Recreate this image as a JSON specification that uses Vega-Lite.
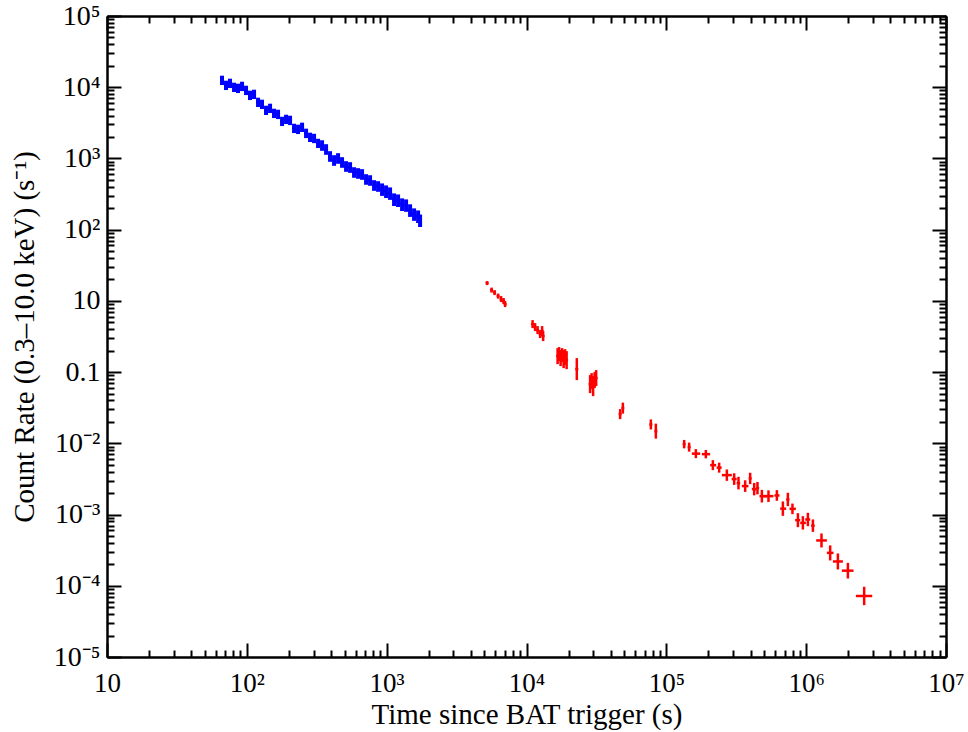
{
  "$schema": "https://vega.github.io/schema/vega-lite/v6.json",
  "autosize": {"type": "none"},
  "padding": {"left": 107, "top": 16, "right": 22, "bottom": 75},
  "width": 839,
  "height": 641,
  "background": "white",
  "config": {"view": {"stroke": null}},
  "datasets": {
    "blue": [
      {"t":66.46,"tlo":64.33,"thi":68.70,"r":1262,"rlo":1073,"rhi":1451},
      {"t":71.0,"tlo":68.70,"thi":73.38,"r":1074,"rlo":913,"rhi":1235},
      {"t":75.8,"tlo":73.38,"thi":78.38,"r":1146,"rlo":974,"rhi":1318},
      {"t":81.0,"tlo":78.38,"thi":83.71,"r":1007,"rlo":856,"rhi":1158},
      {"t":86.5,"tlo":83.71,"thi":89.41,"r":974.5,"rlo":828,"rhi":1121},
      {"t":92.4,"tlo":89.41,"thi":95.50,"r":1039,"rlo":883,"rhi":1195},
      {"t":98.7,"tlo":95.50,"thi":102.0,"r":913.4,"rlo":776,"rhi":1050},
      {"t":105.4,"tlo":102.0,"thi":108.9,"r":777,"rlo":660,"rhi":894},
      {"t":112.6,"tlo":108.9,"thi":116.4,"r":802.6,"rlo":682,"rhi":923},
      {"t":120.3,"tlo":116.4,"thi":124.3,"r":619.6,"rlo":527,"rhi":713},
      {"t":128.4,"tlo":124.3,"thi":132.7,"r":580.8,"rlo":494,"rhi":668},
      {"t":137.2,"tlo":132.7,"thi":141.8,"r":478.3,"rlo":407,"rhi":550},
      {"t":146.6,"tlo":141.8,"thi":151.4,"r":510.5,"rlo":434,"rhi":587},
      {"t":156.5,"tlo":151.4,"thi":161.8,"r":434.1,"rlo":369,"rhi":499},
      {"t":167.2,"tlo":161.8,"thi":172.8,"r":420.4,"rlo":357,"rhi":483},
      {"t":178.6,"tlo":172.8,"thi":184.6,"r":335.2,"rlo":285,"rhi":385},
      {"t":190.8,"tlo":184.6,"thi":197.1,"r":357.6,"rlo":304,"rhi":411},
      {"t":203.7,"tlo":197.1,"thi":210.6,"r":346.2,"rlo":294,"rhi":398},
      {"t":217.6,"tlo":210.6,"thi":224.9,"r":267.3,"rlo":227,"rhi":307},
      {"t":232.4,"tlo":224.9,"thi":240.3,"r":258.8,"rlo":220,"rhi":298},
      {"t":248.3,"tlo":240.3,"thi":256.6,"r":276.1,"rlo":235,"rhi":318},
      {"t":265.2,"tlo":256.6,"thi":274.1,"r":227.4,"rlo":193,"rhi":262},
      {"t":283.2,"tlo":274.1,"thi":292.8,"r":199.7,"rlo":170,"rhi":230},
      {"t":302.5,"tlo":292.8,"thi":312.6,"r":193.4,"rlo":164,"rhi":222},
      {"t":323.1,"tlo":312.6,"thi":334.0,"r":164.5,"rlo":140,"rhi":189},
      {"t":345.1,"tlo":334.0,"thi":356.7,"r":154.2,"rlo":128,"rhi":180},
      {"t":368.6,"tlo":356.7,"thi":381.0,"r":135.5,"rlo":112.5,"rhi":158.5},
      {"t":393.6,"tlo":381.0,"thi":406.9,"r":108.1,"rlo":89.7,"rhi":126.5},
      {"t":420.6,"tlo":406.9,"thi":434.6,"r":94.95,"rlo":78.8,"rhi":111.1},
      {"t":449.2,"tlo":434.6,"thi":464.2,"r":101.3,"rlo":84.1,"rhi":118.5},
      {"t":479.7,"tlo":464.2,"thi":495.8,"r":89.0,"rlo":73.9,"rhi":104.1},
      {"t":512.4,"tlo":495.8,"thi":529.6,"r":78.2,"rlo":64.9,"rhi":91.5},
      {"t":547.3,"tlo":529.6,"thi":565.6,"r":75.7,"rlo":62.8,"rhi":88.6},
      {"t":584.6,"tlo":565.6,"thi":604.1,"r":64.4,"rlo":53.5,"rhi":75.3},
      {"t":624.4,"tlo":604.1,"thi":645.3,"r":62.4,"rlo":51.8,"rhi":73.0},
      {"t":666.8,"tlo":645.3,"thi":689.2,"r":60.4,"rlo":50.1,"rhi":70.7},
      {"t":712.4,"tlo":689.2,"thi":736.2,"r":51.4,"rlo":42.7,"rhi":60.1},
      {"t":760.9,"tlo":736.2,"thi":786.3,"r":49.7,"rlo":41.3,"rhi":58.1},
      {"t":812.7,"tlo":786.3,"thi":839.8,"r":42.3,"rlo":35.1,"rhi":49.5},
      {"t":868.0,"tlo":839.8,"thi":897.0,"r":40.97,"rlo":34.0,"rhi":47.9},
      {"t":927.1,"tlo":897.0,"thi":958.1,"r":37.2,"rlo":29.8,"rhi":44.6},
      {"t":990.2,"tlo":958.1,"thi":1023,"r":34.8,"rlo":27.8,"rhi":41.8},
      {"t":1057.6,"tlo":1023,"thi":1093,"r":32.7,"rlo":26.2,"rhi":39.2},
      {"t":1129.6,"tlo":1093,"thi":1167,"r":26.9,"rlo":21.5,"rhi":32.3},
      {"t":1206.5,"tlo":1167,"thi":1247,"r":26.0,"rlo":20.8,"rhi":31.2},
      {"t":1289.0,"tlo":1247,"thi":1332,"r":22.9,"rlo":18.3,"rhi":27.5},
      {"t":1376.6,"tlo":1332,"thi":1422,"r":22.2,"rlo":17.8,"rhi":26.6},
      {"t":1470.2,"tlo":1422,"thi":1519,"r":18.9,"rlo":15.1,"rhi":22.7},
      {"t":1570.4,"tlo":1519,"thi":1623,"r":16.6,"rlo":13.3,"rhi":19.9},
      {"t":1677.3,"tlo":1623,"thi":1705,"r":15.5,"rlo":12.4,"rhi":18.6},
      {"t":1733.9,"tlo":1705,"thi":1762,"r":13.6,"rlo":10.9,"rhi":16.3}
    ],
    "red": [
      {"t":5226,"tlo":5098,"thi":5357,"r":1.778,"rlo":1.667,"rhi":1.897},
      {"t":5628,"tlo":5491,"thi":5769,"r":1.418,"rlo":1.308,"rhi":1.537},
      {"t":5913,"tlo":5769,"thi":6061,"r":1.308,"rlo":1.206,"rhi":1.418},
      {"t":6265,"tlo":6112,"thi":6422,"r":1.168,"rlo":1.077,"rhi":1.266},
      {"t":6581,"tlo":6420,"thi":6746,"r":1.060,"rlo":0.962,"rhi":1.168},
      {"t":6858,"tlo":6691,"thi":7029,"r":0.9936,"rlo":0.9018,"rhi":1.095},
      {"t":7030,"tlo":6859,"thi":7206,"r":0.9016,"rlo":0.8182,"rhi":0.9933},
      {"t":11058,"tlo":10788,"thi":11334,"r":0.4722,"rlo":0.4149,"rhi":0.5374},
      {"t":11523,"tlo":11242,"thi":11811,"r":0.4285,"rlo":0.3765,"rhi":0.4879},
      {"t":12006,"tlo":11713,"thi":12306,"r":0.3890,"rlo":0.3417,"rhi":0.4428},
      {"t":12513,"tlo":12208,"thi":12826,"r":0.3417,"rlo":0.3002,"rhi":0.3890},
      {"t":12932,"tlo":12617,"thi":13255,"r":0.3765,"rlo":0.3203,"rhi":0.4426},
      {"t":13149,"tlo":12828,"thi":13478,"r":0.3203,"rlo":0.2725,"rhi":0.3765},
      {"t":16692,"tlo":16285,"thi":17109,"r":0.1678,"rlo":0.1295,"rhi":0.2174},
      {"t":17109,"tlo":16692,"thi":17537,"r":0.1790,"rlo":0.1427,"rhi":0.2245},
      {"t":17536,"tlo":17108,"thi":17974,"r":0.1573,"rlo":0.1214,"rhi":0.2037},
      {"t":17977,"tlo":17539,"thi":18426,"r":0.1733,"rlo":0.1381,"rhi":0.2173},
      {"t":18427,"tlo":17978,"thi":18888,"r":0.1523,"rlo":0.1138,"rhi":0.2037},
      {"t":18888,"tlo":18427,"thi":19360,"r":0.1624,"rlo":0.1254,"rhi":0.2103},
      {"t":19363,"tlo":18891,"thi":19847,"r":0.1474,"rlo":0.1102,"rhi":0.1972},
      {"t":22895,"tlo":22337,"thi":23467,"r":0.1102,"rlo":0.0772,"rhi":0.1573},
      {"t":28497,"tlo":27802,"thi":29209,"r":0.0678,"rlo":0.0507,"rhi":0.0908},
      {"t":29215,"tlo":28502,"thi":29945,"r":0.0747,"rlo":0.0577,"rhi":0.0968},
      {"t":29945,"tlo":29215,"thi":30694,"r":0.0636,"rlo":0.0460,"rhi":0.0879},
      {"t":30692,"tlo":29943,"thi":31459,"r":0.0772,"rlo":0.0596,"rhi":0.1000},
      {"t":31478,"tlo":30710,"thi":32265,"r":0.0823,"rlo":0.0636,"rhi":0.1067},
      {"t":46733,"tlo":45593,"thi":47901,"r":0.02571,"rlo":0.02187,"rhi":0.03022},
      {"t":48865,"tlo":47673,"thi":50087,"r":0.03122,"rlo":0.02614,"rhi":0.03729},
      {"t":77504,"tlo":75614,"thi":79442,"r":0.01842,"rlo":0.01567,"rhi":0.02165},
      {"t":84145,"tlo":82093,"thi":86249,"r":0.01484,"rlo":0.01164,"rhi":0.01890},
      {"t":134090,"tlo":130820,"thi":137440,"r":0.009743,"rlo":0.008505,"rhi":0.01116},
      {"t":145560,"tlo":142010,"thi":149200,"r":0.008843,"rlo":0.007645,"rhi":0.01023},
      {"t":162560,"tlo":152220,"thi":174500,"r":0.007166,"rlo":0.006194,"rhi":0.008290},
      {"t":191670,"tlo":179470,"thi":205770,"r":0.007051,"rlo":0.006154,"rhi":0.008079},
      {"t":215170,"tlo":205770,"thi":227200,"r":0.004940,"rlo":0.004203,"rhi":0.005806},
      {"t":238650,"tlo":229090,"thi":248690,"r":0.004556,"rlo":0.003876,"rhi":0.005355},
      {"t":270900,"tlo":249500,"thi":294200,"r":0.003576,"rlo":0.002974,"rhi":0.004299},
      {"t":305500,"tlo":293200,"thi":318400,"r":0.003148,"rlo":0.002609,"rhi":0.003797},
      {"t":328100,"tlo":318400,"thi":337400,"r":0.002765,"rlo":0.002256,"rhi":0.003391},
      {"t":366200,"tlo":346900,"thi":386600,"r":0.002509,"rlo":0.002079,"rhi":0.003028},
      {"t":397600,"tlo":387900,"thi":407600,"r":0.003214,"rlo":0.002673,"rhi":0.003865},
      {"t":424800,"tlo":408900,"thi":438900,"r":0.002273,"rlo":0.001860,"rhi":0.002778},
      {"t":448500,"tlo":438900,"thi":461200,"r":0.002349,"rlo":0.001922,"rhi":0.002870},
      {"t":482300,"tlo":463500,"thi":523600,"r":0.001813,"rlo":0.001479,"rhi":0.002222},
      {"t":537700,"tlo":495000,"thi":583900,"r":0.001813,"rlo":0.001503,"rhi":0.002187},
      {"t":617300,"tlo":593500,"thi":644500,"r":0.001855,"rlo":0.001562,"rhi":0.002202},
      {"t":681400,"tlo":651800,"thi":719500,"r":0.001210,"rlo":0.000959,"rhi":0.001527},
      {"t":739800,"tlo":719500,"thi":759600,"r":0.001629,"rlo":0.001312,"rhi":0.002023},
      {"t":798000,"tlo":759600,"thi":843900,"r":0.001202,"rlo":0.001013,"rhi":0.001427},
      {"t":872800,"tlo":834400,"thi":906100,"r":0.000834,"rlo":0.000665,"rhi":0.001046},
      {"t":947300,"tlo":906100,"thi":995400,"r":0.000764,"rlo":0.000616,"rhi":0.000950},
      {"t":1028700,"tlo":984000,"thi":1068300,"r":0.000853,"rlo":0.000687,"rhi":0.001059},
      {"t":1117200,"tlo":1085900,"thi":1150600,"r":0.000698,"rlo":0.000571,"rhi":0.000854},
      {"t":1287000,"tlo":1179300,"thi":1406300,"r":0.000433,"rlo":0.000345,"rhi":0.000543},
      {"t":1484700,"tlo":1406300,"thi":1568300,"r":0.000290,"rlo":0.000227,"rhi":0.000369},
      {"t":1686000,"tlo":1552900,"thi":1830600,"r":0.0002195,"rlo":0.0001694,"rhi":0.0002843},
      {"t":1987800,"tlo":1800500,"thi":2180000,"r":0.0001630,"rlo":0.0001266,"rhi":0.0002098},
      {"t":2599000,"tlo":2267600,"thi":2966000,"r":0.0000719,"rlo":0.0000534,"rhi":0.0000968}
    ]
  },
  "resolve": {"axis": {"x": "independent", "y": "independent"}},
  "layer": [
    {
      "data": {"name": "blue"},
      "mark": {"type": "rule", "color": "#0000ff", "strokeWidth": 4},
      "encoding": {
        "x": {"field": "t", "type": "quantitative",
          "scale": {"type": "log", "domain": [10, 10000000], "nice": false},
          "axis": {"orient": "bottom", "values": [10, 100, 1000, 10000, 100000, 1000000, 10000000],
            "labelExpr": "datum.value < 50 ? '10' : datum.value < 500 ? '10²' : datum.value < 5000 ? '10³' : datum.value < 50000 ? '10⁴' : datum.value < 500000 ? '10⁵' : datum.value < 5000000 ? '10⁶' : '10⁷'",
            "tickSize": -14, "tickWidth": 2, "tickColor": "black", "domainColor": "black", "domainWidth": 2,
            "labelFont": "Liberation Serif", "labelFontSize": 27, "labelColor": "black", "labelPadding": 27,
            "labelFlush": false, "labelOverlap": false, "grid": false,
            "title": "Time since BAT trigger (s)", "titleFont": "Liberation Serif", "titleFontSize": 29,
            "titleFontWeight": "normal", "titleColor": "black", "titleY": 66, "titleBaseline": "alphabetic"}},
        "y": {"field": "rlo", "type": "quantitative",
          "scale": {"type": "log", "domain": [0.00001, 10000], "nice": false},
          "axis": {"orient": "left", "values": [0.00001, 0.0001, 0.001, 0.01, 0.1, 1, 10, 100, 1000, 10000],
            "labelExpr": "datum.value < 0.00005 ? '10⁻⁵' : datum.value < 0.0005 ? '10⁻⁴' : datum.value < 0.005 ? '10⁻³' : datum.value < 0.05 ? '10⁻²' : datum.value < 0.5 ? '0.1' : datum.value < 5 ? '10' : datum.value < 50 ? '10²' : datum.value < 500 ? '10³' : datum.value < 5000 ? '10⁴' : '10⁵'",
            "tickSize": -14, "tickWidth": 2, "tickColor": "black", "domainColor": "black", "domainWidth": 2,
            "labelFont": "Liberation Serif", "labelFontSize": 28, "labelColor": "black", "labelPadding": 21,
            "labelOverlap": false, "labelFlush": false, "grid": false,
            "title": "Count Rate (0.3–10.0 keV) (s⁻¹)", "titleFont": "Liberation Serif", "titleFontSize": 29,
            "titleFontWeight": "normal", "titleColor": "black", "titleX": -74, "titleBaseline": "alphabetic"}},
        "y2": {"field": "rhi"}
      }
    },
    {
      "data": {"name": "blue"},
      "mark": {"type": "rule", "color": "#0000ff", "strokeWidth": 2.5},
      "encoding": {
        "x": {"field": "tlo", "type": "quantitative",
          "scale": {"type": "log", "domain": [10, 10000000], "nice": false},
          "axis": {"orient": "bottom", "values": [20,30,40,50,60,70,80,90,200,300,400,500,600,700,800,900,2000,3000,4000,5000,6000,7000,8000,9000,20000,30000,40000,50000,60000,70000,80000,90000,200000,300000,400000,500000,600000,700000,800000,900000,2000000,3000000,4000000,5000000,6000000,7000000,8000000,9000000],
            "labels": false, "tickSize": -7, "tickWidth": 2, "tickColor": "black", "domainColor": "black", "domainWidth": 2, "grid": false, "title": null}},
        "x2": {"field": "thi"},
        "y": {"field": "r", "type": "quantitative",
          "scale": {"type": "log", "domain": [0.00001, 10000], "nice": false},
          "axis": {"orient": "left", "values": [0.00002,0.00003,0.00004,0.00005,0.00006,0.00007,0.00008,0.00009,0.0002,0.0003,0.0004,0.0005,0.0006,0.0007,0.0008,0.0009,0.002,0.003,0.004,0.005,0.006,0.007,0.008,0.009,0.02,0.03,0.04,0.05,0.06,0.07,0.08,0.09,0.2,0.3,0.4,0.5,0.6,0.7,0.8,0.9,2,3,4,5,6,7,8,9,20,30,40,50,60,70,80,90,200,300,400,500,600,700,800,900,2000,3000,4000,5000,6000,7000,8000,9000],
            "labels": false, "tickSize": -7, "tickWidth": 2, "tickColor": "black", "domainColor": "black", "domainWidth": 2, "grid": false, "title": null}}
      }
    },
    {
      "data": {"name": "red"},
      "mark": {"type": "rule", "color": "#ff0000", "strokeWidth": 2.5},
      "encoding": {
        "x": {"field": "t", "type": "quantitative",
          "scale": {"type": "log", "domain": [10, 10000000], "nice": false},
          "axis": {"orient": "top", "values": [10, 100, 1000, 10000, 100000, 1000000, 10000000],
            "labels": false, "tickSize": -14, "tickWidth": 2, "tickColor": "black", "domainColor": "black", "domainWidth": 2, "grid": false, "title": null}},
        "y": {"field": "rlo", "type": "quantitative",
          "scale": {"type": "log", "domain": [0.00001, 10000], "nice": false},
          "axis": {"orient": "right", "values": [0.00001, 0.0001, 0.001, 0.01, 0.1, 1, 10, 100, 1000, 10000],
            "labels": false, "tickSize": -14, "tickWidth": 2, "tickColor": "black", "domainColor": "black", "domainWidth": 2, "grid": false, "title": null}},
        "y2": {"field": "rhi"}
      }
    },
    {
      "data": {"name": "red"},
      "mark": {"type": "rule", "color": "#ff0000", "strokeWidth": 2.5},
      "encoding": {
        "x": {"field": "tlo", "type": "quantitative",
          "scale": {"type": "log", "domain": [10, 10000000], "nice": false},
          "axis": {"orient": "top", "values": [20,30,40,50,60,70,80,90,200,300,400,500,600,700,800,900,2000,3000,4000,5000,6000,7000,8000,9000,20000,30000,40000,50000,60000,70000,80000,90000,200000,300000,400000,500000,600000,700000,800000,900000,2000000,3000000,4000000,5000000,6000000,7000000,8000000,9000000],
            "labels": false, "tickSize": -7, "tickWidth": 2, "tickColor": "black", "domainColor": "black", "domainWidth": 2, "grid": false, "title": null}},
        "x2": {"field": "thi"},
        "y": {"field": "r", "type": "quantitative",
          "scale": {"type": "log", "domain": [0.00001, 10000], "nice": false},
          "axis": {"orient": "right", "values": [0.00002,0.00003,0.00004,0.00005,0.00006,0.00007,0.00008,0.00009,0.0002,0.0003,0.0004,0.0005,0.0006,0.0007,0.0008,0.0009,0.002,0.003,0.004,0.005,0.006,0.007,0.008,0.009,0.02,0.03,0.04,0.05,0.06,0.07,0.08,0.09,0.2,0.3,0.4,0.5,0.6,0.7,0.8,0.9,2,3,4,5,6,7,8,9,20,30,40,50,60,70,80,90,200,300,400,500,600,700,800,900,2000,3000,4000,5000,6000,7000,8000,9000],
            "labels": false, "tickSize": -7, "tickWidth": 2, "tickColor": "black", "domainColor": "black", "domainWidth": 2, "grid": false, "title": null}}
      }
    }
  ]
}
